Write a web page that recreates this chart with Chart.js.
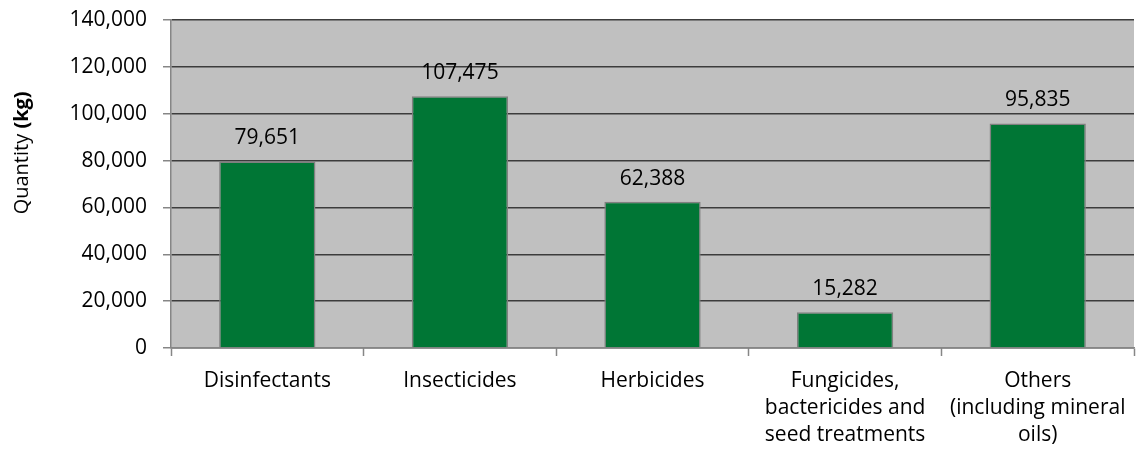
<!DOCTYPE html>
<html>
<head>
<meta charset="utf-8">
<script src="https://cdn.jsdelivr.net/npm/chart.js@4"></script>
<style>
  html, body { margin: 0; padding: 0; background: #fff; }
  #wrap { width: 1138px; height: 458px; position: relative; }
</style>
</head>
<body>
<div id="wrap"><canvas id="pestChart"></canvas></div>
<script>
const categories = [
  "Disinfectants",
  "Insecticides",
  "Herbicides",
  ["Fungicides,", "bactericides and", "seed treatments"],
  ["Others", "(including mineral", "oils)"],
];
const quantities = [79651, 107475, 62388, 15282, 95835];
const yTicks = [0, 20000, 40000, 60000, 80000, 100000, 120000, 140000];

const FONT = "'Open Sans', 'Noto Sans', sans-serif";

function fmt(v) {
  return v.toLocaleString("en-US");
}

// grey plot background
const plotBg = {
  id: "plotBg",
  beforeDraw(chart) {
    const a = chart.chartArea;
    const c = chart.ctx;
    c.save();
    c.fillStyle = "#c0c0c0";
    c.fillRect(a.left, a.top, a.right - a.left, a.bottom - a.top);
    c.restore();
  },
};

// value labels above bars
const barLabels = {
  id: "barLabels",
  afterDatasetsDraw(chart) {
    const c = chart.ctx;
    const meta = chart.getDatasetMeta(0);
    c.save();
    c.font = "21px " + FONT;
    c.fillStyle = "#000";
    c.textAlign = "center";
    c.textBaseline = "middle";
    meta.data.forEach((bar, i) => {
      c.fillText(fmt(quantities[i]), bar.x, bar.y - 23);
    });
    c.restore();
  },
};

// y axis title, "(kg)" in bold like the original
const yTitle = {
  id: "yTitle",
  afterDraw(chart) {
    const a = chart.chartArea;
    const c = chart.ctx;
    const part1 = "Quantity ";
    const part2 = "(kg)";
    c.save();
    c.translate(22, a.top + (a.bottom - a.top) * 0.405);
    c.rotate(-Math.PI / 2);
    c.textBaseline = "middle";
    c.font = "20px " + FONT;
    const w1 = c.measureText(part1).width;
    c.font = "bold 20px " + FONT;
    const w2 = c.measureText(part2).width;
    const x = -(w1 + w2) / 2;
    c.fillStyle = "#000";
    c.textAlign = "left";
    c.font = "20px " + FONT;
    c.fillText(part1, x, 0);
    c.font = "bold 20px " + FONT;
    c.fillText(part2, x + w1, 0);
    c.restore();
  },
};

const ctx = document.getElementById("pestChart");

const chart = new Chart(ctx, {
  type: "bar",
  data: {
    labels: categories,
    datasets: [
      {
        label: "Quantity (kg)",
        data: quantities,
        backgroundColor: "#007635",
        borderColor: "#808080",
        borderWidth: 1.5,
        categoryPercentage: 1,
        barPercentage: 0.5,
      },
    ],
  },
  options: {
    responsive: true,
    maintainAspectRatio: false,
    animation: false,
    layout: { padding: { top: 20, right: 4, left: 0, bottom: 0 } },
    plugins: {
      legend: { display: false },
      tooltip: { enabled: false },
    },
    scales: {
      x: {
        grid: {
          offset: true,
          drawOnChartArea: false,
          drawTicks: true,
          tickLength: 8,
          tickColor: "#868686",
          tickWidth: 1.5,
        },
        border: { color: "#868686", width: 1.5 },
        ticks: {
          color: "#000",
          font: { family: FONT, size: 21, lineHeight: 1.29 },
          padding: 11,
          maxRotation: 0,
          autoSkip: false,
        },
        afterFit(scale) {
          scale.height = 110;
          scale.paddingLeft = 0;
          scale.paddingRight = 0;
        },
      },
      y: {
        min: 0,
        max: 140000,
        afterBuildTicks(scale) {
          scale.ticks = yTicks.map((v) => ({ value: v }));
        },
        grid: {
          color: "#3c3c3c",
          lineWidth: 1.5,
          tickLength: 8,
          tickColor: "#868686",
          tickWidth: 1.5,
        },
        border: { color: "#868686", width: 1.5 },
        ticks: {
          color: "#000",
          font: { family: FONT, size: 21 },
          padding: 16,
          callback: (v) => fmt(v),
        },
        afterFit(scale) {
          scale.width = 171;
          scale.paddingTop = 0;
          scale.paddingBottom = 0;
        },
      },
    },
  },
  plugins: [plotBg, barLabels, yTitle],
});
</script>
</body>
</html>
